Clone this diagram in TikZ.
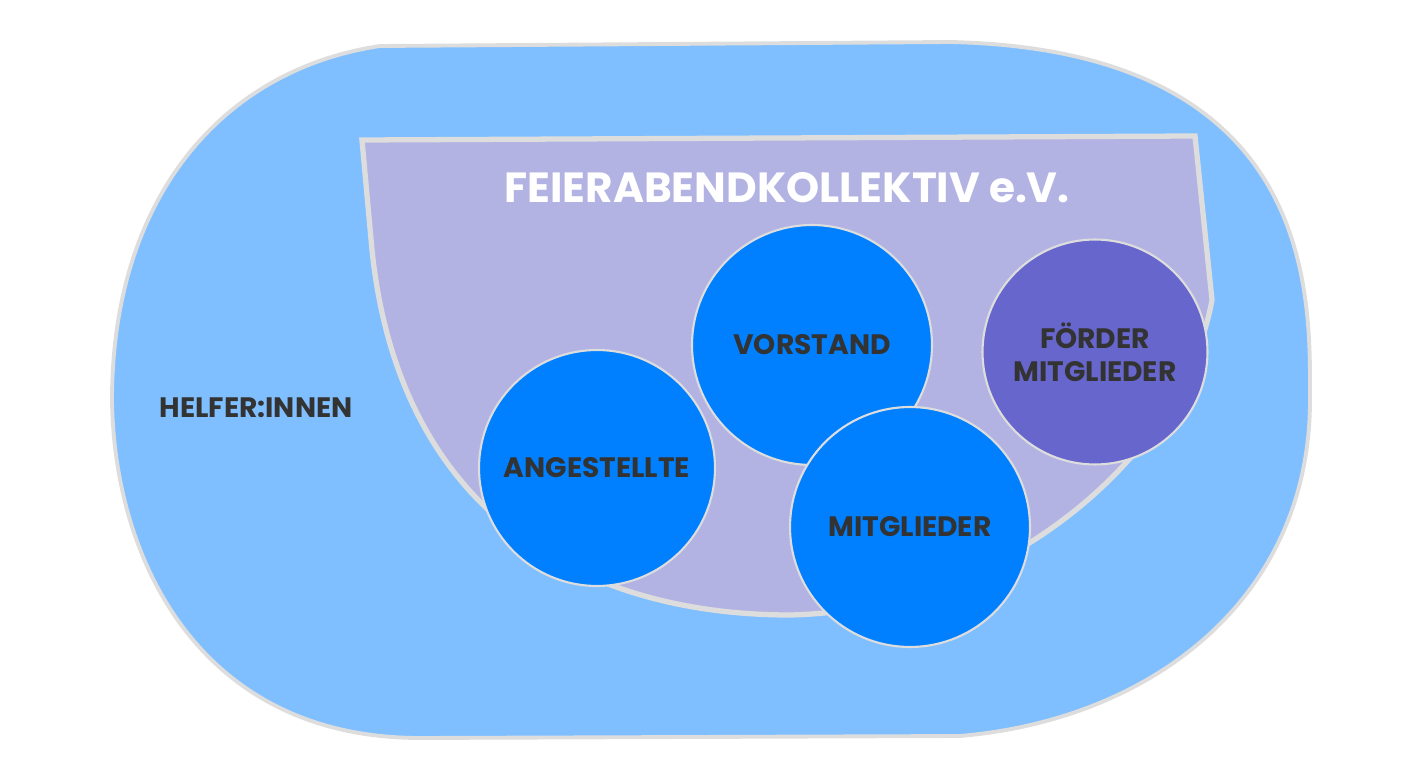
\documentclass[tikz,border=0pt]{standalone}
\usepackage{fontspec}
\setmainfont{Poppins}
\definecolor{outerc}{HTML}{80BFFF}
\definecolor{innerc}{HTML}{B3B3E3}
\definecolor{circc}{HTML}{0080FF}
\definecolor{foerc}{HTML}{6666CC}
\definecolor{edgec}{HTML}{DDDDDD}
\definecolor{txtc}{HTML}{333333}
\tikzset{
 blob/.style={circle, draw=edgec, line width=1.2pt, fill=circc, inner sep=0pt, text=txtc, font=\fontsize{16}{19}\selectfont\bfseries, align=center},
 lbl/.style={text=txtc, font=\fontsize{16}{19}\selectfont\bfseries}
}
\begin{document}
\begin{tikzpicture}[x=0.02cm,y=-0.02cm]
\useasboundingbox (0,0) rectangle (1420,776);
\draw[fill=outerc, draw=edgec, line width=2.2pt] (380,46) -- (950,42)
  .. controls (1320,50) and (1310,300) .. (1310,400)
  .. controls (1310,600) and (1150,720) .. (960,736) -- (420,738)
  .. controls (200,738) and (114,560) .. (112,400)
  .. controls (112,200) and (220,70) .. (380,46) -- cycle;
\draw[fill=innerc, draw=edgec, line width=3pt] (362,140) -- (1195,136) -- (1212,300)
  .. controls (1185,450) and (1010,610) .. (790,615)
  .. controls (590,615) and (400,520) .. (372,250) -- cycle;
\node[text=white, font=\fontsize{24}{28}\selectfont\bfseries] (title) at (787,188) {FEIERABENDKOLLEKTIV e.V.};
\node[lbl] (helfer) at (256,408) {HELFER:INNEN};
\node[blob, minimum size=4.72cm] (ang) at (597,468) {ANGESTELLTE};
\node[blob, minimum size=4.8cm] (vor) at (812,345) {VORSTAND};
\node[blob, minimum size=4.8cm] (mit) at (910,527) {MITGLIEDER};
\node[blob, fill=foerc, minimum size=4.5cm] (foe) at (1095,352) {FÖRDER\\MITGLIEDER};
\end{tikzpicture}
\end{document}
